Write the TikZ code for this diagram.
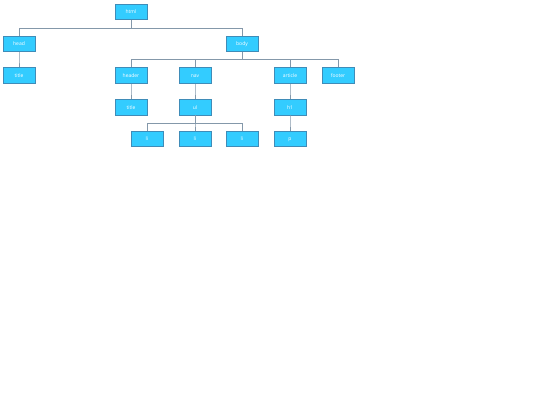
\documentclass[tikz,border=0pt]{standalone}
\usepackage{fontspec}
\setmainfont{Open Sans}
\usetikzlibrary{calc}
\definecolor{boxfill}{HTML}{33CCFF}
\definecolor{boxline}{HTML}{3F8CB8}
\definecolor{wire}{HTML}{8498AA}
\tikzset{
  tag/.style={draw=boxline, line width=0.6pt, fill=boxfill, minimum width=32pt, minimum height=15.5pt, inner sep=0pt, text height=4.2pt, text depth=0.4pt, text=white, font=\fontsize{5}{6}\selectfont},
  tree/.style={draw=wire, line width=0.8pt, to path={(\tikztostart.south) |- ($(\tikztostart.south)!0.5!(\tikztotarget.north)$) -| (\tikztotarget.north)}}
}
\begin{document}
\begin{tikzpicture}[x=1pt,y=-1pt]
\useasboundingbox (0,0) rectangle (540,405);
\node[tag] (html) at (131,12) {html};
\node[tag] (head) at (19,43.8) {head};
\node[tag] (body) at (242,43.8) {body};
\node[tag] (title1) at (19,75.5) {title};
\node[tag] (header) at (131,75.5) {header};
\node[tag] (nav) at (195,75.5) {nav};
\node[tag] (article) at (290,75.5) {article};
\node[tag] (footer) at (338,75.5) {footer};
\node[tag] (title2) at (131,107.2) {title};
\node[tag] (ul) at (195,107.2) {ul};
\node[tag] (h1) at (290,107.2) {h1};
\node[tag] (li1) at (147,139) {li};
\node[tag] (li2) at (195,139) {li};
\node[tag] (li3) at (242,139) {li};
\node[tag] (p) at (290,139) {p};
\path (html) edge[tree] (head) edge[tree] (body);
\path (head) edge[tree] (title1);
\path (body) edge[tree] (header) edge[tree] (nav) edge[tree] (article) edge[tree] (footer);
\path (header) edge[tree] (title2);
\path (nav) edge[tree] (ul);
\path (article) edge[tree] (h1);
\path (ul) edge[tree] (li1) edge[tree] (li2) edge[tree] (li3);
\path (h1) edge[tree] (p);
\end{tikzpicture}
\end{document}
